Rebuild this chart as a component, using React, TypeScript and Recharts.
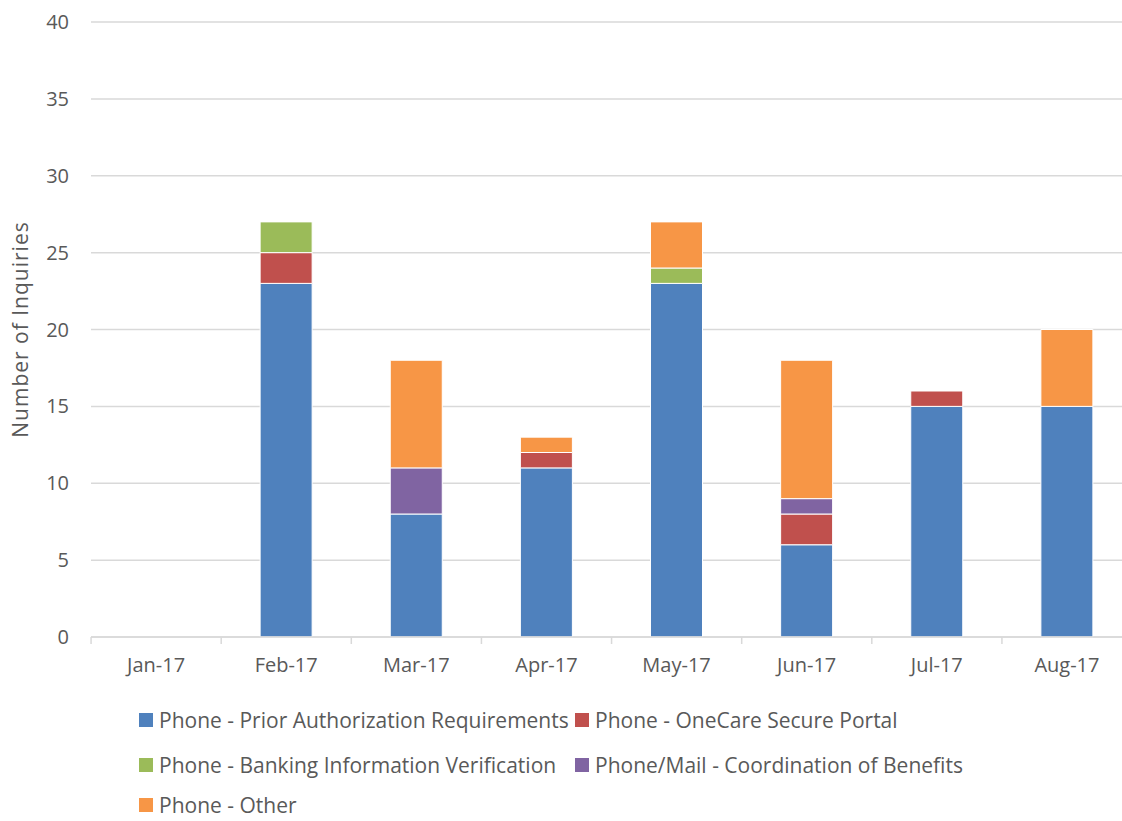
import React from 'react';
import { BarChart, Bar, XAxis, YAxis, CartesianGrid } from 'recharts';

const months = ['Jan-17', 'Feb-17', 'Mar-17', 'Apr-17', 'May-17', 'Jun-17', 'Jul-17', 'Aug-17'];
const priorAuth = [0, 23, 8, 11, 23, 6, 15, 15];
const oneCare = [0, 2, 0, 1, 0, 2, 1, 0];
const banking = [0, 2, 0, 0, 1, 0, 0, 0];
const coordination = [0, 0, 3, 0, 0, 1, 0, 0];
const other = [0, 0, 7, 1, 3, 9, 0, 5];
const yTicks = [0, 5, 10, 15, 20, 25, 30, 35, 40];

const series = [
  { key: 'priorAuth', name: 'Phone - Prior Authorization Requirements', color: '#4f81bd' },
  { key: 'oneCare', name: 'Phone - OneCare Secure Portal', color: '#c0504d' },
  { key: 'banking', name: 'Phone - Banking Information Verification', color: '#9bbb59' },
  { key: 'coordination', name: 'Phone/Mail - Coordination of Benefits', color: '#8064a2' },
  { key: 'other', name: 'Phone - Other', color: '#f79646' },
];

const data = months.map((m, i) => ({
  month: m,
  priorAuth: priorAuth[i],
  oneCare: oneCare[i],
  banking: banking[i],
  coordination: coordination[i],
  other: other[i],
}));

const FONT = '"Open Sans", sans-serif';
const TEXT = '#595959';
const AXIS = '#d9d9d9';
const HALF_BAND = 65;

const MonthTick = (props: any) => {
  const { x, y, payload, index } = props;
  const last = index === months.length - 1;
  return (
    <g>
      <line x1={x - HALF_BAND} y1={y - 8} x2={x - HALF_BAND} y2={y - 1} stroke={AXIS} strokeWidth={1.5} />
      {last && <line x1={x + HALF_BAND} y1={y - 8} x2={x + HALF_BAND} y2={y - 1} stroke={AXIS} strokeWidth={1.5} />}
      <text x={x} y={y + 27} textAnchor="middle" fill={TEXT} fontSize={20} fontFamily={FONT}>
        {payload.value}
      </text>
    </g>
  );
};

// legend rows; last one pulled up a little so it stays inside the page
const legendPos = [
  { left: 139, top: 710 },
  { left: 575, top: 710 },
  { left: 139, top: 755 },
  { left: 575, top: 755 },
  { left: 139, top: 795 },
];

export default function App() {
  return (
    <div style={{ position: 'absolute', left: 0, top: 0, width: 1122, height: 821, overflow: 'hidden', background: '#fff', fontFamily: FONT }}>
      <BarChart width={1134} height={690} data={data} margin={{ top: 22, right: 2, bottom: 13, left: 0 }} barSize={52}>
        <CartesianGrid vertical={false} stroke={AXIS} strokeWidth={1.5} />
        <XAxis
          dataKey="month"
          tick={<MonthTick />}
          tickLine={false}
          axisLine={{ stroke: AXIS, strokeWidth: 1.5 }}
          height={40}
          interval={0}
        />
        <YAxis
          domain={[0, 40]}
          ticks={yTicks}
          width={91}
          axisLine={false}
          tickLine={false}
          tickSize={0}
          tickMargin={22}
          tick={{ fill: TEXT, fontSize: 20, fontFamily: FONT }}
          label={{ value: 'Number of Inquiries', angle: -90, position: 'insideLeft', offset: 21, style: { textAnchor: 'middle', fill: TEXT, fontSize: 21, letterSpacing: 1, fontFamily: FONT } }}
        />
        {series.map((s) => (
          <Bar key={s.key} dataKey={s.key} name={s.name} stackId="a" fill={s.color} stroke="#fff" strokeWidth={1} isAnimationActive={false} />
        ))}
      </BarChart>
      {series.map((s, i) => (
        <div key={s.key} style={{ position: 'absolute', left: legendPos[i].left, top: legendPos[i].top, height: 20, display: 'flex', alignItems: 'center', whiteSpace: 'nowrap' }}>
          <span style={{ width: 14, height: 14, background: s.color, marginRight: 6, display: 'block' }} />
          <span style={{ fontSize: 21, color: TEXT, lineHeight: '20px', height: 20, display: 'block' }}>{s.name}</span>
        </div>
      ))}
    </div>
  );
}
